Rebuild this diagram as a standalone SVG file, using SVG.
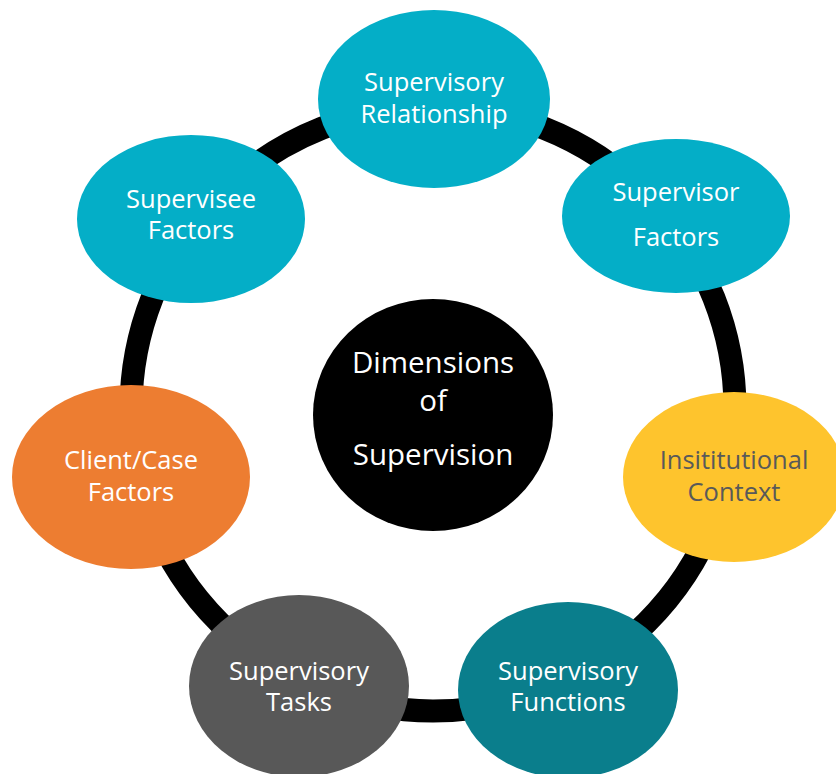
<svg xmlns="http://www.w3.org/2000/svg" width="836" height="774" viewBox="0 0 836 774">
  <style>
    .lbl { font-family: "Open Sans", Lato, "Liberation Sans", sans-serif; font-size: 25.5px; fill: #ffffff; text-anchor: middle; font-variant-ligatures: none; }
    .dark { fill: #595959; }
    .big { font-size: 29.5px; }
  </style>
  <rect width="836" height="774" fill="#ffffff"/>

  <!-- ring linking the dimensions -->
  <g id="connectors">
    <circle cx="433" cy="409" r="302" fill="none" stroke="#000000" stroke-width="23"/>
  </g>

  <g id="center">
    <ellipse cx="433" cy="415" rx="120" ry="116" fill="#000000"/>
    <text class="lbl big" x="433" y="373">Dimensions</text>
    <text class="lbl big" x="433" y="411">of</text>
    <text class="lbl big" x="433" y="465">Supervision</text>
  </g>

  <g id="relationship">
    <ellipse cx="434" cy="99" rx="116" ry="89" fill="#04AEC7"/>
    <text class="lbl" x="434" y="91">Supervisory</text>
    <text class="lbl" x="434" y="123">Relationship</text>
  </g>

  <g id="supervisor">
    <ellipse cx="676" cy="216" rx="114" ry="77" fill="#04AEC7"/>
    <text class="lbl" x="676" y="201">Supervisor</text>
    <text class="lbl" x="676" y="246">Factors</text>
  </g>

  <g id="institution">
    <ellipse cx="734" cy="477" rx="111" ry="85" fill="#FEC42D"/>
    <text class="lbl dark" x="734" y="469">Insititutional</text>
    <text class="lbl dark" x="734" y="501">Context</text>
  </g>

  <g id="functions">
    <ellipse cx="568" cy="690" rx="110" ry="88" fill="#0A7E8C"/>
    <text class="lbl" x="568" y="680">Supervisory</text>
    <text class="lbl" x="568" y="711">Functions</text>
  </g>

  <g id="tasks">
    <ellipse cx="299" cy="686" rx="110" ry="91" fill="#585858"/>
    <text class="lbl" x="299" y="680">Supervisory</text>
    <text class="lbl" x="299" y="711">Tasks</text>
  </g>

  <g id="client">
    <ellipse cx="131" cy="477" rx="119" ry="92" fill="#ED7D31"/>
    <text class="lbl" x="131" y="469">Client/Case</text>
    <text class="lbl" x="131" y="501">Factors</text>
  </g>

  <g id="supervisee">
    <ellipse cx="191" cy="219" rx="114" ry="84" fill="#04AEC7"/>
    <text class="lbl" x="191" y="208">Supervisee</text>
    <text class="lbl" x="191" y="239">Factors</text>
  </g>
</svg>
